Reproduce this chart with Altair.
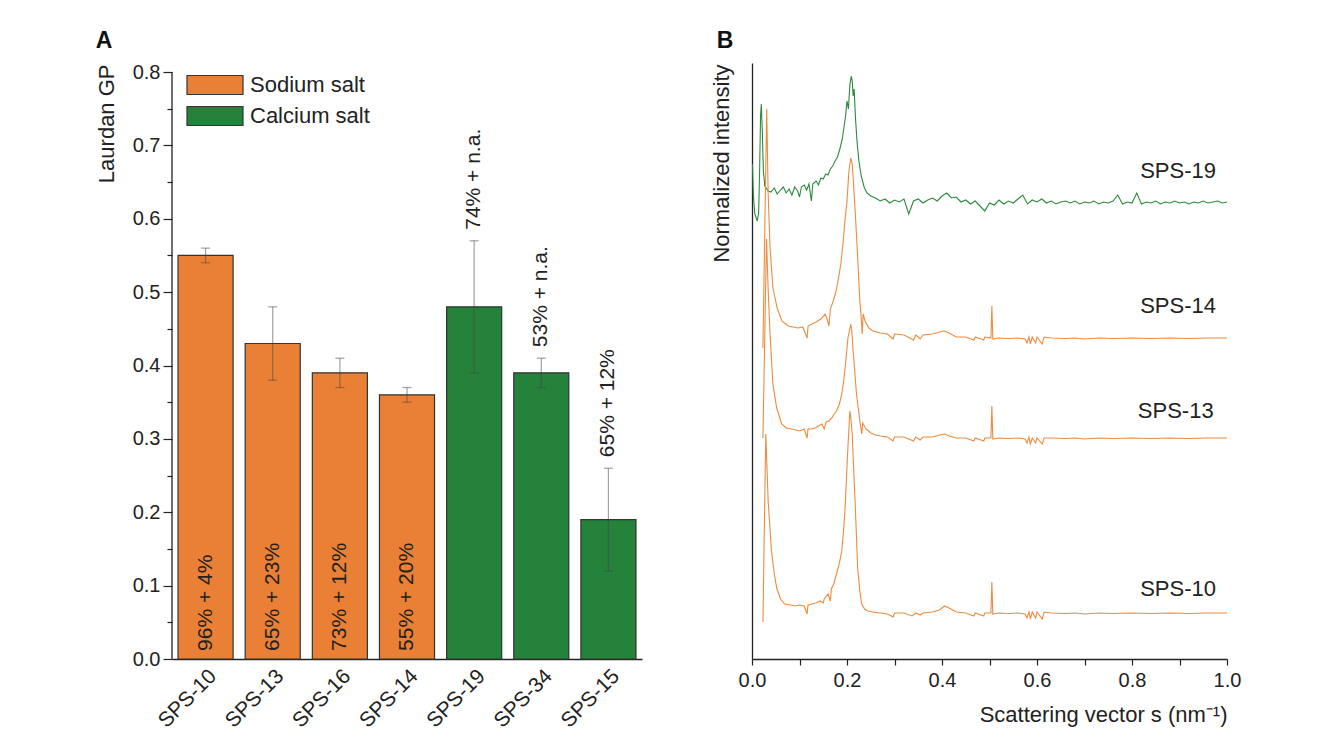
import altair as alt
import pandas as pd

FONT = "Liberation Sans"
ORANGE = "#E98035"
GREEN = "#25823A"
LINE_ORANGE = "#EE8B3F"
LINE_GREEN = "#2B8A3E"
INK = "#222222"

# ---------------- Panel A data ----------------
samples = ["SPS-10", "SPS-13", "SPS-16", "SPS-14", "SPS-19", "SPS-34", "SPS-15"]
salts = ["Sodium salt", "Sodium salt", "Sodium salt", "Sodium salt",
         "Calcium salt", "Calcium salt", "Calcium salt"]
gp_values = [0.55, 0.43, 0.39, 0.36, 0.48, 0.39, 0.19]
err_low = [0.54, 0.38, 0.37, 0.35, 0.39, 0.37, 0.12]
err_high = [0.56, 0.48, 0.41, 0.37, 0.57, 0.41, 0.26]
bar_labels = ["96% + 4%", "65% + 23%", "73% + 12%", "55% + 20%",
              "74% + n.a.", "53% + n.a.", "65% + 12%"]
salt_order = ["Sodium salt", "Calcium salt"]
y_ticks_a = [round(i * 0.05, 2) for i in range(17)]
y_axis_extent = [0.0, 0.8]

# ---------------- Panel B data ----------------
sps19_s = [0.001, 0.003, 0.006, 0.011, 0.014, 0.016, 0.018, 0.0196, 0.0217, 0.024, 0.027, 0.034,
           0.040, 0.047, 0.053, 0.060, 0.066, 0.072, 0.078, 0.084, 0.090, 0.096, 0.100, 0.104,
           0.110, 0.115, 0.120, 0.125, 0.128, 0.135, 0.140, 0.145, 0.150, 0.155, 0.160, 0.165,
           0.170, 0.175, 0.180, 0.185, 0.190, 0.194, 0.197, 0.200, 0.203, 0.206, 0.209, 0.211,
           0.213, 0.215, 0.218, 0.221, 0.225, 0.230, 0.236, 0.242, 0.250,
           0.26, 0.27, 0.28, 0.29, 0.30, 0.31, 0.32, 0.33, 0.34, 0.35, 0.36, 0.37, 0.38, 0.39,
           0.40, 0.41, 0.42, 0.43, 0.44, 0.45, 0.46, 0.47, 0.48, 0.49, 0.50, 0.51, 0.52, 0.53,
           0.54, 0.55, 0.56, 0.57, 0.58, 0.59, 0.60, 0.61, 0.62, 0.63, 0.64, 0.65, 0.66, 0.67,
           0.68, 0.69, 0.70, 0.71, 0.72, 0.73, 0.74, 0.75, 0.76, 0.77, 0.78, 0.79, 0.80, 0.81,
           0.82, 0.83, 0.84, 0.85, 0.86, 0.87, 0.88, 0.89, 0.90, 0.91, 0.92, 0.93, 0.94, 0.95,
           0.96, 0.97, 0.98, 0.99, 1.00]
sps19_i = [4.95, 4.63, 4.45, 4.38, 4.46, 4.88, 5.43, 5.55, 5.28, 4.88, 4.73, 4.68,
           4.67, 4.71, 4.65, 4.69, 4.72, 4.66, 4.70, 4.64, 4.72, 4.68, 4.62, 4.72,
           4.74, 4.69, 4.75, 4.58, 4.75, 4.78, 4.74, 4.81, 4.80, 4.85, 4.84, 4.90,
           4.93, 4.98, 5.02, 5.10, 5.20, 5.33, 5.43, 5.58, 5.50, 5.74, 5.83, 5.78,
           5.63, 5.70, 5.40, 5.18, 4.98, 4.83, 4.72, 4.66, 4.63,
           4.61, 4.58, 4.60, 4.56, 4.59, 4.57, 4.60, 4.45, 4.58, 4.60, 4.56, 4.59, 4.61, 4.58,
           4.63, 4.66, 4.61, 4.62, 4.57, 4.59, 4.55, 4.58, 4.53, 4.48, 4.56, 4.54, 4.59, 4.55,
           4.58, 4.56, 4.60, 4.64, 4.55, 4.59, 4.57, 4.60, 4.56, 4.58, 4.55, 4.57, 4.58, 4.56,
           4.58, 4.55, 4.57, 4.56, 4.58, 4.55, 4.57, 4.56, 4.58, 4.64, 4.55, 4.57, 4.56, 4.66,
           4.55, 4.57, 4.56, 4.58, 4.55, 4.57, 4.56, 4.58, 4.56, 4.57, 4.55, 4.57, 4.56, 4.58,
           4.56, 4.57, 4.58, 4.56, 4.57]

sps14_s = [0.023, 0.031, 0.034, 0.038, 0.044, 0.053, 0.063, 0.076, 0.087, 0.097, 0.107, 0.116,
           0.118, 0.126, 0.135, 0.145, 0.154, 0.158, 0.162, 0.165, 0.171, 0.176, 0.181, 0.187,
           0.192, 0.196, 0.200, 0.204, 0.208, 0.211, 0.213, 0.217, 0.221, 0.227, 0.230, 0.232,
           0.234, 0.238, 0.246, 0.255,
           0.270, 0.285, 0.297, 0.300, 0.320, 0.340, 0.345, 0.354, 0.360, 0.380, 0.395, 0.405,
           0.415, 0.430, 0.450, 0.467, 0.470, 0.488, 0.490, 0.503, 0.505, 0.507, 0.520, 0.540,
           0.560, 0.575, 0.579, 0.583, 0.586, 0.590, 0.597, 0.600, 0.611, 0.615, 0.630, 0.660,
           0.680, 0.700, 0.730, 0.760, 0.800, 0.840, 0.880, 0.920, 0.960, 1.000]
sps14_i = [3.11, 5.50, 4.65, 4.11, 3.71, 3.51, 3.38, 3.33, 3.32, 3.31, 3.32, 3.21,
           3.33, 3.35, 3.37, 3.40, 3.45, 3.40, 3.33, 3.50, 3.58, 3.66, 3.78, 3.95,
           4.18, 4.40, 4.58, 4.88, 5.01, 4.95, 4.81, 4.50, 4.15, 3.58, 3.41, 3.25,
           3.45, 3.38, 3.31, 3.28,
           3.26, 3.25, 3.20, 3.25, 3.24, 3.19, 3.24, 3.20, 3.24, 3.25, 3.27, 3.28,
           3.26, 3.22, 3.22, 3.19, 3.22, 3.19, 3.22, 3.21, 3.53, 3.20, 3.21, 3.205,
           3.21, 3.20, 3.16, 3.22, 3.15, 3.22, 3.16, 3.22, 3.15, 3.22, 3.21, 3.205,
           3.21, 3.20, 3.21, 3.205, 3.21, 3.205, 3.21, 3.205, 3.21, 3.21]

sps13_s = [0.023, 0.0305, 0.034, 0.038, 0.044, 0.052, 0.0625, 0.072, 0.0836, 0.092, 0.101, 0.110,
           0.116, 0.118, 0.126, 0.133, 0.140, 0.147, 0.152, 0.156, 0.162, 0.168, 0.173, 0.178,
           0.184, 0.189, 0.193, 0.196, 0.202, 0.208, 0.210, 0.213, 0.220, 0.227, 0.231, 0.233,
           0.240, 0.250, 0.260,
           0.270, 0.285, 0.297, 0.300, 0.320, 0.340, 0.345, 0.354, 0.360, 0.380, 0.395, 0.405,
           0.415, 0.430, 0.450, 0.467, 0.470, 0.488, 0.490, 0.503, 0.505, 0.507, 0.520, 0.540,
           0.560, 0.575, 0.579, 0.583, 0.586, 0.590, 0.597, 0.600, 0.611, 0.615, 0.630, 0.660,
           0.680, 0.700, 0.730, 0.760, 0.800, 0.840, 0.880, 0.920, 0.960, 1.000]
sps13_i = [2.21, 4.20, 3.70, 3.25, 2.75, 2.51, 2.35, 2.31, 2.30, 2.29, 2.28, 2.30,
           2.21, 2.30, 2.30, 2.31, 2.33, 2.35, 2.30, 2.37, 2.38, 2.41, 2.45, 2.48,
           2.55, 2.65, 2.78, 2.91, 3.21, 3.35, 3.28, 3.08, 2.65, 2.38, 2.25, 2.36,
           2.30, 2.26, 2.24,
           2.23, 2.22, 2.18, 2.22, 2.22, 2.18, 2.22, 2.19, 2.22, 2.22, 2.24, 2.25,
           2.23, 2.21, 2.21, 2.18, 2.21, 2.18, 2.21, 2.21, 2.53, 2.20, 2.21, 2.205,
           2.21, 2.20, 2.16, 2.22, 2.15, 2.21, 2.16, 2.21, 2.15, 2.21, 2.21, 2.205,
           2.21, 2.20, 2.21, 2.205, 2.21, 2.205, 2.21, 2.205, 2.21, 2.21]

sps10_s = [0.023, 0.029, 0.034, 0.041, 0.047, 0.052, 0.060, 0.069, 0.080, 0.091, 0.100, 0.110,
           0.116, 0.118, 0.126, 0.135, 0.143, 0.150, 0.152, 0.160, 0.165, 0.167, 0.172, 0.178,
           0.184, 0.189, 0.193, 0.196, 0.2015, 0.206, 0.208, 0.211, 0.214, 0.217, 0.2225, 0.227,
           0.231, 0.237, 0.244, 0.255,
           0.270, 0.285, 0.297, 0.300, 0.320, 0.337, 0.345, 0.354, 0.360, 0.380, 0.395, 0.405,
           0.415, 0.430, 0.450, 0.467, 0.470, 0.488, 0.490, 0.503, 0.505, 0.507, 0.520, 0.540,
           0.560, 0.575, 0.579, 0.583, 0.586, 0.590, 0.597, 0.600, 0.611, 0.615, 0.630, 0.660,
           0.680, 0.700, 0.730, 0.760, 0.800, 0.840, 0.880, 0.920, 0.960, 1.000]
sps10_i = [0.37, 2.25, 1.58, 1.08, 0.85, 0.71, 0.60, 0.55, 0.54, 0.53, 0.54, 0.53,
           0.45, 0.54, 0.55, 0.56, 0.58, 0.56, 0.60, 0.65, 0.58, 0.70, 0.75, 0.85,
           0.96, 1.08, 1.30, 1.51, 2.08, 2.48, 2.42, 2.25, 1.90, 1.58, 0.91, 0.68,
           0.55, 0.50, 0.48, 0.47,
           0.46, 0.45, 0.42, 0.46, 0.46, 0.43, 0.46, 0.44, 0.46, 0.47, 0.49, 0.53,
           0.51, 0.47, 0.46, 0.43, 0.46, 0.43, 0.46, 0.46, 0.77, 0.45, 0.46, 0.455,
           0.46, 0.45, 0.41, 0.47, 0.40, 0.47, 0.41, 0.47, 0.40, 0.47, 0.46, 0.455,
           0.46, 0.45, 0.46, 0.455, 0.46, 0.455, 0.46, 0.455, 0.46, 0.46]

curve_names = ["SPS-19", "SPS-14", "SPS-13", "SPS-10"]
curve_label_s = [0.897, 0.897, 0.892, 0.897]
curve_label_i = [4.88, 3.53, 2.48, 0.70]
x_ticks_b = [round(i * 0.1, 1) for i in range(11)]

# ---------------- Tables ----------------
bars_df = pd.DataFrame({
    "sample": samples, "salt": salts, "gp": gp_values,
    "lo": err_low, "hi": err_high, "label": bar_labels,
})
bars_df["label_pos"] = [0.011 if s == "Sodium salt" else h + 0.015
                        for s, h in zip(salts, err_high)]

rows = []
for name, ss, ii in [("SPS-19", sps19_s, sps19_i), ("SPS-14", sps14_s, sps14_i),
                     ("SPS-13", sps13_s, sps13_i), ("SPS-10", sps10_s, sps10_i)]:
    for k, (s, i) in enumerate(zip(ss, ii)):
        rows.append({"curve": name, "s": s, "intensity": i, "idx": k})
curves_df = pd.DataFrame(rows)
curve_labels_df = pd.DataFrame({"name": curve_names, "s": curve_label_s, "i": curve_label_i})
axis_line_df = pd.DataFrame({"y0": [y_axis_extent[0]], "y1": [y_axis_extent[1]]})

NO_FRAME = alt.ViewBackground(stroke="transparent", strokeWidth=0, strokeOpacity=0)

# ---------------- Panel A ----------------
H = 596
major = "round(datum.value * 100) % 10 === 0"

x_a = alt.X("sample:N", sort=samples,
            scale=alt.Scale(paddingInner=0.18, paddingOuter=0.09),
            axis=alt.Axis(title=None, labelAngle=-45, labelAlign="right", labelBaseline="top",
                          ticks=False, labelFontSize=21, labelFont=FONT, labelColor=INK,
                          labelPadding=6, domainColor=INK, domainWidth=1.3, grid=False))
# top of the frame sits a little above 0.8 (as in the original panel)
y_scale_a = alt.Scale(domain=[0, 0.8123], nice=False, zero=True)
y_axis_a = alt.Axis(values=y_ticks_a,
                    labelExpr=f"{major} ? format(datum.value, '.1f') : ''",
                    tickSize={"condition": {"test": major, "value": 9}, "value": 5},
                    tickColor=INK, tickWidth=1.2, domain=False,
                    labelFontSize=20, labelFont=FONT, labelColor=INK, labelPadding=3,
                    labelFlush=False, grid=False, title="Laurdan GP", titleFontSize=22,
                    titleFont=FONT, titleFontWeight="normal", titleColor=INK, titleAngle=270,
                    titleX=-66, titleY=1, titleAlign="right", titleBaseline="middle")


def y_a(field):
    return alt.Y(field, scale=y_scale_a, axis=y_axis_a)


base_a = alt.Chart(bars_df)
bars = base_a.mark_bar(stroke="#333333", strokeWidth=1.2, opacity=1).encode(
    x=x_a,
    y=y_a("gp:Q"),
    color=alt.Color("salt:N", scale=alt.Scale(domain=salt_order, range=[ORANGE, GREEN]),
                    legend=alt.Legend(orient="none", legendX=14, legendY=12, title=None,
                                      symbolType="M-1,-0.34L1,-0.34L1,0.34L-1,0.34Z",
                                      symbolSize=3136, symbolStrokeColor="#333333",
                                      symbolStrokeWidth=1.2, symbolOpacity=1,
                                      labelFontSize=22, labelFont=FONT, labelColor=INK,
                                      labelOffset=6, clipHeight=20, rowPadding=9, padding=0)),
)
err_rule = base_a.mark_rule(color="#444444", opacity=0.5, strokeWidth=1.2).encode(
    x=x_a, y=y_a("lo:Q"), y2="hi:Q")
cap_lo = base_a.mark_tick(color="#444444", opacity=0.5, size=9, thickness=1.2).encode(
    x=x_a, y=y_a("lo:Q"))
cap_hi = base_a.mark_tick(color="#444444", opacity=0.5, size=9, thickness=1.2).encode(
    x=x_a, y=y_a("hi:Q"))
bar_text = base_a.mark_text(angle=270, align="left", baseline="middle", fontSize=21,
                            font=FONT, color=INK).encode(
    x=x_a, y=y_a("label_pos:Q"), text="label:N")
y_line = alt.Chart(axis_line_df).mark_rule(color=INK, strokeWidth=1.3).encode(
    x=alt.value(0), y=y_a("y0:Q"), y2="y1:Q")
letter_a = alt.Chart(pd.DataFrame({"t": ["A"]})).mark_text(
    fontSize=23, fontWeight="bold", font=FONT, color="#111111", align="center",
    baseline="middle").encode(text="t:N", x=alt.value(-68), y=alt.value(-22))

panel_a = alt.layer(bars, err_rule, cap_lo, cap_hi, bar_text, y_line, letter_a).properties(
    width=470, height=H, view=NO_FRAME)

# ---------------- Panel B ----------------
x_scale_b = alt.Scale(domain=[0, 1], nice=False)
y_scale_b = alt.Scale(domain=[0, 5.96], nice=False, zero=True)
x_axis_b = alt.Axis(values=x_ticks_b,
                    labelExpr="round(datum.value * 10) % 2 === 0 ? format(datum.value, '.1f') : ''",
                    tickSize=6, tickColor=INK, tickWidth=1.2, domainColor=INK,
                    domainWidth=1.3, labelFontSize=20, labelFont=FONT, labelColor=INK,
                    labelPadding=5, labelFlush=False, grid=False,
                    title="Scattering vector s (nm\u207b\u00b9)",
                    titleFontSize=22, titleFont=FONT, titleFontWeight="normal",
                    titleColor=INK, titleAnchor="end", titlePadding=14)
y_axis_b = alt.Axis(labels=False, ticks=False, grid=False, domainColor=INK,
                    domainWidth=1.3, title="Normalized intensity", titleFontSize=22,
                    titleFont=FONT, titleFontWeight="normal", titleColor=INK,
                    titleAngle=270, titleX=-31, titleY=1, titleAlign="right",
                    titleBaseline="middle")

lines = alt.Chart(curves_df).mark_line(strokeWidth=1.1).encode(
    x=alt.X("s:Q", scale=x_scale_b, axis=x_axis_b),
    y=alt.Y("intensity:Q", scale=y_scale_b, axis=y_axis_b),
    color=alt.Color("curve:N", scale=alt.Scale(domain=curve_names,
                                               range=[LINE_GREEN, LINE_ORANGE, LINE_ORANGE, LINE_ORANGE]),
                    legend=None),
    order=alt.Order("idx:Q"),
)
curve_text = alt.Chart(curve_labels_df).mark_text(fontSize=22, font=FONT, color=INK).encode(
    x=alt.X("s:Q", scale=x_scale_b, axis=x_axis_b),
    y=alt.Y("i:Q", scale=y_scale_b, axis=y_axis_b),
    text="name:N")
letter_b = alt.Chart(pd.DataFrame({"t": ["B"]})).mark_text(
    fontSize=23, fontWeight="bold", font=FONT, color="#111111", align="center",
    baseline="middle").encode(text="t:N", x=alt.value(-27), y=alt.value(-22))

panel_b = alt.layer(lines, curve_text, letter_b).properties(width=475, height=H, view=NO_FRAME)

chart = alt.hconcat(panel_a, panel_b, spacing=68).resolve_scale(
    color="independent"
).properties(
    padding={"left": 87, "top": 22, "right": 5, "bottom": 5}
).configure_view(stroke="transparent", strokeWidth=0, strokeOpacity=0).configure(
    font=FONT, style={"cell": {"stroke": "transparent", "strokeWidth": 0}})

chart.save("out.html", embed_options={"renderer": "svg", "actions": False})
